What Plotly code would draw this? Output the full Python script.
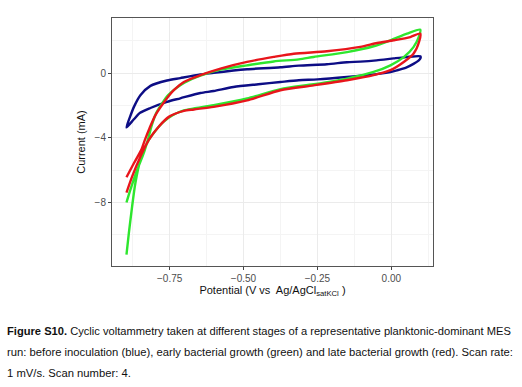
import plotly.graph_objects as go

# Blue: before inoculation
blue_x = [-0.896, -0.885, -0.870, -0.849, -0.815, -0.759, -0.714, -0.646, -0.601, -0.534, -0.488,
          -0.375, -0.313, -0.218, -0.150, -0.105, -0.05, 0.008, 0.05, 0.098,
          0.099, 0.092, 0.075, 0.050, 0.019, -0.003, -0.037, -0.150, -0.250, -0.313, -0.375,
          -0.450, -0.534, -0.601, -0.646, -0.714, -0.759, -0.815, -0.850, -0.871, -0.896]
blue_y = [-3.35, -2.75, -2.05, -1.36, -0.78, -0.45, -0.30, -0.08, 0.02, 0.17, 0.25,
          0.37, 0.47, 0.56, 0.68, 0.72, 0.80, 0.92, 1.00, 1.05,
          0.95, 0.78, 0.58, 0.35, 0.18, 0.08, -0.02, -0.23, -0.38, -0.43, -0.54,
          -0.68, -0.85, -1.10, -1.22, -1.55, -1.77, -2.15, -2.45, -2.85, -3.35]

# Green: early bacterial growth
green_x = [-0.896, -0.883, -0.860, -0.838, -0.825, -0.810, -0.795, -0.775, -0.755, -0.730, -0.700,
           -0.646, -0.578, -0.488, -0.398, -0.313, -0.263, -0.150, -0.060, -0.003, 0.053, 0.098,
           0.094, 0.075, 0.042, -0.003, -0.060, -0.150, -0.263, -0.375, -0.488, -0.601, -0.668,
           -0.702, -0.740, -0.770, -0.800, -0.821, -0.832, -0.849, -0.866, -0.877, -0.888, -0.896]
green_y = [-8.00, -7.22, -5.99, -4.96, -4.20, -3.20, -2.45, -1.85, -1.35, -0.95, -0.58,
           -0.15, 0.22, 0.49, 0.73, 0.86, 1.01, 1.31, 1.67, 2.04, 2.45, 2.70,
           2.30, 1.62, 1.00, 0.49, 0.08, -0.33, -0.68, -0.98, -1.56, -1.98, -2.18,
           -2.30, -2.60, -3.00, -3.60, -4.14, -4.55, -5.37, -6.81, -8.25, -9.90, -11.23]

# Red: late bacterial growth
red_x = [-0.896, -0.871, -0.845, -0.834, -0.818, -0.798, -0.764, -0.736, -0.702, -0.646, -0.578,
         -0.488, -0.398, -0.330, -0.218, -0.105, -0.048, 0.008, 0.064, 0.098,
         0.094, 0.075, 0.042, -0.003, -0.060, -0.150, -0.263, -0.375, -0.488, -0.601, -0.668,
         -0.702, -0.753, -0.787, -0.821, -0.849, -0.877, -0.896]
red_y = [-6.44, -5.57, -4.70, -4.14, -3.40, -2.59, -1.67, -1.05, -0.54, -0.12, 0.29,
         0.70, 1.01, 1.21, 1.36, 1.63, 1.87, 2.04, 2.24, 2.45,
         1.95, 1.21, 0.70, 0.19, -0.12, -0.43, -0.75, -1.05, -1.68, -2.08, -2.24,
         -2.33, -2.70, -3.31, -4.14, -5.17, -6.40, -7.39]

x_ticks = [-0.75, -0.50, -0.25, 0.00]
y_ticks = [0, -4, -8]

caption_lines = [
    "<b>Figure S10.</b> Cyclic voltammetry taken at different stages of a representative planktonic-dominant MES",
    "run: before inoculation (blue), early bacterial growth (green) and late bacterial growth (red). Scan rate:",
    "1 mV/s. Scan number: 4.",
]

fig = go.Figure()
for xs, ys, col in [(blue_x, blue_y, "#0d0d85"), (green_x, green_y, "#2ee62e"), (red_x, red_y, "#e8151b")]:
    fig.add_trace(go.Scatter(x=xs, y=ys, mode="lines",
                             line=dict(color=col, width=2.4, shape="spline", smoothing=0.7),
                             showlegend=False, hoverinfo="skip"))

axis_common = dict(
    showline=True, linecolor="#555555", linewidth=1, mirror=True,
    ticks="outside", ticklen=3, tickcolor="#444444", tickwidth=1,
    gridcolor="#ebebeb", gridwidth=1, zeroline=False,
    tickfont=dict(family="Liberation Sans, Arial", size=10, color="#4d4d4d"),
)

fig.update_xaxes(
    range=[-0.945, 0.141], tickvals=x_ticks, tickformat=".2f",
    minor=dict(dtick=0.125, tick0=0.125, showgrid=True, gridcolor="#f4f4f4", gridwidth=0.6, ticks=""),
    title=dict(text="Potential (V vs  Ag/AgCl<sub>satKCl</sub> )", standoff=2,
               font=dict(family="Liberation Sans, Arial", size=11, color="#111111")),
    **axis_common)
fig.update_yaxes(
    range=[-11.93, 3.42], tickvals=y_ticks, tickformat="d",
    minor=dict(dtick=2, tick0=0, showgrid=True, gridcolor="#f4f4f4", gridwidth=0.6, ticks=""),
    title=dict(text="Current (mA)", standoff=6,
               font=dict(family="Liberation Sans, Arial", size=11, color="#111111")),
    **axis_common)

caption_y = [331, 352, 373]
caption_size = [11.15, 11.25, 11.25]
for txt, yp, fs in zip(caption_lines, caption_y, caption_size):
    fig.add_annotation(text=txt, xref="paper", yref="paper",
                       x=(5 - 112) / (433 - 112), y=1 - (yp - 18) / (266 - 18),
                       xanchor="left", yanchor="middle", showarrow=False,
                       font=dict(family="Liberation Sans, Arial", size=fs, color="#111111"))

fig.update_layout(
    width=522, height=387, autosize=False,
    margin=dict(l=112, r=89, t=18, b=121),
    paper_bgcolor="white", plot_bgcolor="white",
)

fig.write_html("out.html", config={"displayModeBar": False},
               post_script="document.body.style.margin='0';")
